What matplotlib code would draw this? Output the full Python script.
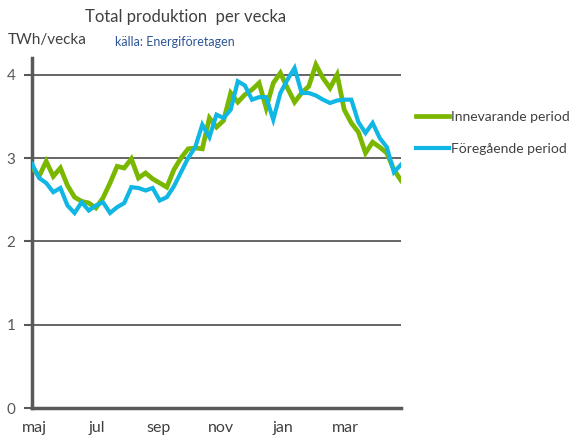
import matplotlib
matplotlib.use("Agg")
import matplotlib.pyplot as plt

current = [2.89, 2.78, 2.96, 2.78, 2.88, 2.67, 2.53, 2.48, 2.46, 2.40,
           2.52, 2.70, 2.90, 2.88, 2.99, 2.76, 2.82, 2.75, 2.70, 2.65,
           2.86, 3.00, 3.11, 3.12, 3.11, 3.48, 3.37, 3.45, 3.78, 3.67,
           3.76, 3.82, 3.90, 3.60, 3.90, 4.02, 3.84, 3.67, 3.78, 3.86,
           4.12, 3.96, 3.84, 4.00, 3.58, 3.42, 3.31, 3.06, 3.19, 3.13,
           3.06, 2.86, 2.73]
previous = [2.93, 2.76, 2.70, 2.59, 2.64, 2.43, 2.34, 2.47, 2.37, 2.43,
            2.47, 2.34, 2.41, 2.46, 2.65, 2.64, 2.61, 2.64, 2.49, 2.53,
            2.66, 2.83, 3.00, 3.13, 3.40, 3.25, 3.52, 3.48, 3.58, 3.92,
            3.87, 3.70, 3.73, 3.73, 3.46, 3.78, 3.94, 4.08, 3.78, 3.78,
            3.75, 3.70, 3.66, 3.69, 3.70, 3.70, 3.43, 3.30, 3.42, 3.24,
            3.13, 2.83, 2.92]
month_labels = ["maj", "jul", "sep", "nov", "jan", "mar"]
y_ticks = [0, 1, 2, 3, 4]
series_names = ["Innevarande period", "Föregående period"]

GREEN = "#7ab800"
BLUE = "#10b6e4"
GRAY = "#595959"
FONT = ["Lato", "DejaVu Sans"]
plt.rcParams["font.family"] = FONT

fig = plt.figure(figsize=(5.72, 4.36), dpi=100)
ax = fig.add_axes([32/572, 1-408/436, (401-32)/572, (408-58)/436])

weeks = list(range(len(current)))
ax.plot(weeks, current, color=GREEN, lw=3.4, solid_joinstyle="miter", label=series_names[0], zorder=3)
ax.plot(weeks, previous, color=BLUE, lw=3.0, solid_joinstyle="miter", label=series_names[1], zorder=4)

ax.set_xlim(0, len(current) - 1)
ax.set_ylim(0, 4.2)
ax.set_yticks(y_ticks)
ax.set_yticklabels([str(t) for t in y_ticks], color=GRAY, fontsize=11)
for t in y_ticks[1:]:
    ax.axhline(t, color=GRAY, lw=1.3, zorder=1)

month_pos = [0.4 + 8.75 * i for i in range(len(month_labels))]
ax.set_xticks(month_pos)
ax.set_xticklabels(month_labels, color="#404040", fontsize=11.5)
ax.tick_params(axis="x", length=0, pad=9)
ax.tick_params(axis="y", length=6, width=1.5, color=GRAY, pad=6, direction="out")

for s in ["top", "right"]:
    ax.spines[s].set_visible(False)
for s in ["left", "bottom"]:
    ax.spines[s].set_color(GRAY)
    ax.spines[s].set_linewidth(2.5)

fig.text(85/572, 1-17/436, "Total produktion  per vecka", fontsize=12, color="#404040", va="center", ha="left")
fig.text(8/572, 1-40/436, "TWh/vecka", fontsize=11, color="#404040", va="center", ha="left")
fig.text(115/572, 1-42/436, "källa: Energiföretagen", fontsize=9, color="#2e5597", va="center", ha="left")

fig.legend(loc="center left", bbox_to_anchor=(410/572, 1-133/436), frameon=False,
           fontsize=10, handlelength=2.4, handletextpad=0.15, labelspacing=1.4,
           labelcolor="#404040", borderaxespad=0)

fig.savefig("out.png", dpi=100)
